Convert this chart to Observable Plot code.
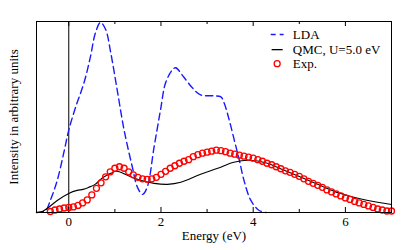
<!DOCTYPE html>
<html>
<head>
<meta charset="utf-8">
<script src="https://cdn.jsdelivr.net/npm/d3@7"></script>
<script src="https://cdn.jsdelivr.net/npm/@observablehq/plot@0.6"></script>
<style>
  html, body { margin: 0; padding: 0; background: #fff; }
  #chart { width: 402px; height: 250px; }
  #chart svg text { font-family: "Liberation Serif", "Times New Roman", "DejaVu Serif", serif !important; }
</style>
</head>
<body>
<div id="chart"></div>
<script>
// LDA (blue dashed)
const ldaEnergy = [-0.7,-0.6,-0.5,-0.4,-0.25,-0.11,0,0.15,0.33,0.47,0.58,0.69,0.8,0.91,1.05,1.2,1.38,1.49,1.6,1.7,1.85,1.99,2.1,2.25,2.32,2.49,2.68,2.86,3.15,3.3,3.37,3.48,3.59,3.7,3.8,3.95,4.13,4.28];
const ldaIntensity = [0,0.5,2,12,32,59,82,105,129,155,179,189,182,159,122,82,45,25,18,25,65,102,129,142,144,135,124,117,116,115,109,92,72,52,32,12,2,0];

// QMC, U=5.0 eV (black solid)
const qmcEnergy = [-0.7,-0.6,-0.47,-0.25,0,0.18,0.31,0.43,0.57,0.75,0.91,1.04,1.27,1.56,1.85,2.14,2.43,2.86,3.23,3.58,3.91,4.31,4.67,5.04,5.4,5.76,6.12,6.49,7.0];
const qmcIntensity = [0,0.5,4,12,19,22,23,25,28,35,39,41,37,32,29,28,30,38,44,50,52,49,42,35,28,21,16,12,8];

// Experiment (red circles)
const expEnergy = [-0.4,-0.3,-0.2,-0.1,0.0,0.1,0.2,0.3,0.4,0.5,0.6,0.7,0.8,0.9,1.0,1.1,1.2,1.3,1.4,1.5,1.6,1.7,1.8,1.9,2.0,2.1,2.2,2.3,2.4,2.5,2.6,2.7,2.8,2.9,3.0,3.1,3.2,3.3,3.4,3.5,3.6,3.7,3.8,3.9,4.0,4.1,4.2,4.3,4.4,4.5,4.6,4.7,4.8,4.9,5.0,5.1,5.2,5.3,5.4,5.5,5.6,5.7,5.8,5.9,6.0,6.1,6.2,6.3,6.4,6.5,6.6,6.7,6.8,6.9,7.0];
const expIntensity = [1,2.5,3.5,4.5,5,5.5,7,9.5,12.5,17.5,24,29.5,35.5,40.5,44,45.5,44,40.5,37.5,35,33.5,33,33.5,35,38,41,44,46.5,49,51,52.5,55.5,57.5,59,60,61,62,61.5,60.5,59,58,57,56,55,54,52.5,51,49,47.5,45.5,43.5,41.5,40,38,36,33.5,31,29,27,25,22.5,20.5,18.5,16.5,14.5,13,11,9.5,8,6.5,5,3.5,2.5,1.5,1.5];

const majorTicks = [0, 2, 4, 6];
const minorTicks = [1, 3, 5];
const legendLabels = ["LDA", "QMC, U=5.0 eV", "Exp."];
const legendRows = [177, 162, 148];

const lda = ldaEnergy.map((e, i) => ({e, v: ldaIntensity[i]}));
const qmc = qmcEnergy.map((e, i) => ({e, v: qmcIntensity[i]}));
const exp = expEnergy.map((e, i) => ({e, v: expIntensity[i]}));

const font = "Liberation Serif, Times New Roman, DejaVu Serif, serif";
const blue = "#1a1aff";
const red = "#ff0000";
const fs = 13;

const yMax = 190;

const chart = Plot.plot({
  width: 402,
  height: 250,
  marginLeft: 36,
  marginRight: 11,
  marginTop: 21,
  marginBottom: 38,
  style: {fontFamily: font, fontSize: fs + "px", background: "#fff", color: "#000"},
  x: {domain: [-0.7, 7.0]},
  y: {domain: [0, yMax], axis: null},
  marks: [
    Plot.ruleX([0], {stroke: "#000", strokeWidth: 1}),
    // inward ticks bottom and top
    Plot.ruleX(majorTicks, {y1: 0, y2: 5, stroke: "#000", strokeWidth: 1}),
    Plot.ruleX(majorTicks, {y1: yMax - 5, y2: yMax, stroke: "#000", strokeWidth: 1}),
    Plot.ruleX(minorTicks, {y1: 0, y2: 3, stroke: "#000", strokeWidth: 1}),
    Plot.ruleX(minorTicks, {y1: yMax - 3, y2: yMax, stroke: "#000", strokeWidth: 1}),
    Plot.axisX({ticks: majorTicks, tickSize: 0, tickPadding: 4, fontSize: fs, fontFamily: font, label: null}),
    Plot.line(lda, {x: "e", y: "v", stroke: blue, strokeWidth: 1.4, strokeDasharray: "7,4", curve: "catmull-rom"}),
    Plot.line(qmc, {x: "e", y: "v", stroke: "#000", strokeWidth: 1.1, curve: "catmull-rom"}),
    Plot.dot(exp, {x: "e", y: "v", r: 3, stroke: red, strokeWidth: 1.3, fill: "none"}),
    Plot.frame({stroke: "#000", strokeWidth: 1}),
    // axis titles
    Plot.text(["Energy (eV)"], {frameAnchor: "bottom", dy: 27, fontSize: fs, fontFamily: font, fill: "#000"}),
    Plot.text(["Intensity in arbitrary units"], {frameAnchor: "left", textAnchor: "middle", rotate: -90, dx: -23, fontSize: fs, fontFamily: font, fill: "#000"}),
    // legend
    Plot.link([0], {x1: 4.38, x2: 4.66, y1: legendRows[0], y2: legendRows[0], stroke: blue, strokeWidth: 1.4, strokeDasharray: "5,4"}),
    Plot.link([0], {x1: 4.4, x2: 4.64, y1: legendRows[1], y2: legendRows[1], stroke: "#000", strokeWidth: 1.3}),
    Plot.dot([0], {x: 4.52, y: legendRows[2], r: 3, stroke: red, strokeWidth: 1.3, fill: "none"}),
    Plot.text(legendLabels, {x: () => 4.86, y: (d, i) => legendRows[i], textAnchor: "start", fontSize: fs, fontFamily: font, fill: "#000"})
  ]
});
document.getElementById("chart").appendChild(chart);
</script>
</body>
</html>
